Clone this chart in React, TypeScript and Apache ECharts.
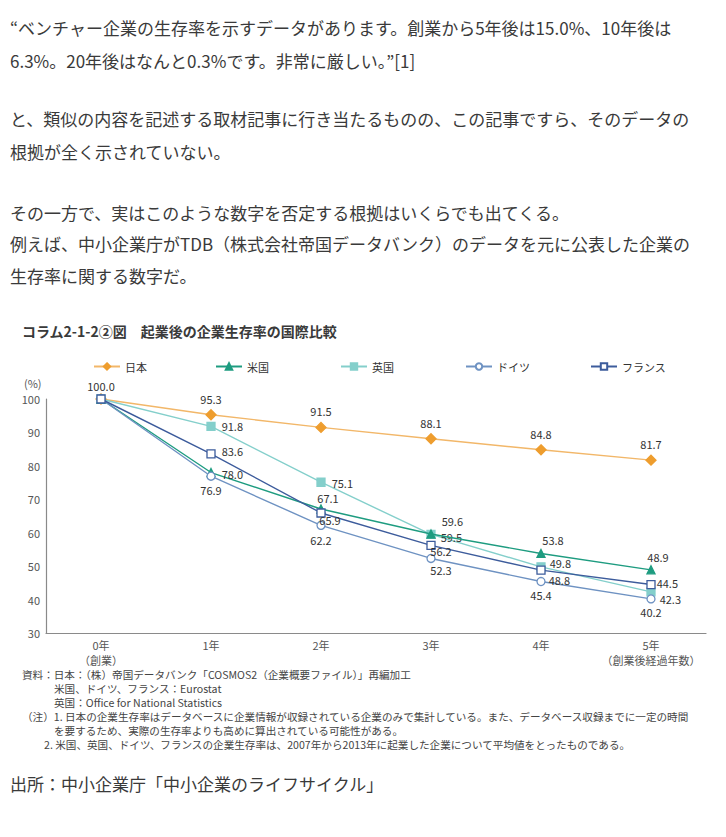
import React, { useEffect, useRef } from "react";
import * as echarts from "echarts";

const categories = ["0年\n（創業）", "1年", "2年", "3年", "4年", "5年\n（創業後経過年数）"];
const seriesNames = ["日本", "米国", "英国", "ドイツ", "フランス"];
const japan = [100.0, 95.3, 91.5, 88.1, 84.8, 81.7];
const usa = [100.0, 78.0, 67.1, 59.6, 53.8, 48.9];
const uk = [100.0, 91.8, 75.1, 59.5, 49.8, 42.3];
const germany = [100.0, 76.9, 62.2, 52.3, 45.4, 40.2];
const france = [100.0, 83.6, 65.9, 56.2, 48.8, 44.5];
const yTicks = { min: 30, max: 100, interval: 10 };

const prose = [
  "“ベンチャー企業の生存率を示すデータがあります。創業から5年後は15.0%、10年後は",
  "6.3%。20年後はなんと0.3%です。非常に厳しい。”[1]",
  "と、類似の内容を記述する取材記事に行き当たるものの、この記事ですら、そのデータの",
  "根拠が全く示されていない。",
  "その一方で、実はこのような数字を否定する根拠はいくらでも出てくる。",
  "例えば、中小企業庁がTDB（株式会社帝国データバンク）のデータを元に公表した企業の",
  "生存率に関する数字だ。",
];
const chartTitle = "コラム2-1-2②図　起業後の企業生存率の国際比較";
const notes = [
  "資料：日本：（株）帝国データバンク「COSMOS2（企業概要ファイル）」再編加工",
  "米国、ドイツ、フランス：Eurostat",
  "英国：Office for National Statistics",
  "（注）1. 日本の企業生存率はデータベースに企業情報が収録されている企業のみで集計している。また、データベース収録までに一定の時間",
  "を要するため、実際の生存率よりも高めに算出されている可能性がある。",
  "2. 米国、英国、ドイツ、フランスの企業生存率は、2007年から2013年に起業した企業について平均値をとったものである。",
];
const sourceText = "出所：中小企業庁「中小企業のライフサイクル」";

const FONT = '"Noto Sans CJK JP", "Noto Sans", sans-serif';

type LP = { show: boolean; position?: any; d?: number[]; distance?: number };
const hide: LP = { show: false };

const japanLabels: LP[] = [hide, ...[1, 2, 3, 4, 5].map(() => ({ show: true, position: "top", distance: 5 }))];
const usaLabels: LP[] = [
  hide,
  { show: true, position: "right", distance: 6, d: [0, 1] },
  { show: true, position: "top", distance: 2, d: [7, 1] },
  { show: true, position: "right", distance: 6, d: [0, -13] },
  { show: true, position: "top", distance: 3, d: [12, 0] },
  { show: true, position: "top", distance: 3, d: [7, 0] },
];
const ukLabels: LP[] = [
  hide,
  { show: true, position: "right", distance: 6 },
  { show: true, position: "right", distance: 6, d: [0, 1] },
  { show: true, position: "right", distance: 5, d: [0, 3] },
  { show: true, position: "right", distance: 4, d: [0, -4] },
  { show: true, position: "right", distance: 4, d: [0, 7] },
];
const germanyLabels: LP[] = [
  hide,
  { show: true, position: "bottom", distance: 4 },
  { show: true, position: "bottom", distance: 4 },
  { show: true, position: "bottom", distance: 1, d: [10, 0] },
  { show: true, position: "bottom", distance: 3 },
  { show: true, position: "bottom", distance: 3 },
];
const franceLabels: LP[] = [
  { show: true, position: "top", distance: 3 },
  { show: true, position: "right", distance: 6, d: [0, -3] },
  { show: true, position: "bottom", distance: 0, d: [9, -3] },
  { show: true, position: "bottom", distance: 0, d: [10, -5] },
  { show: true, position: "right", distance: 3, d: [0, 10] },
  { show: true, position: "right", distance: 1, d: [0, -2] },
];

export default function App() {
  const ref = useRef<HTMLDivElement>(null);
  useEffect(() => {
    if (!ref.current) return;
    const chart = echarts.init(ref.current, undefined, { renderer: "svg" });

    const labelStyle = { color: "#333", fontSize: 11, fontFamily: FONT, formatter: (p: any) => Number(p.value).toFixed(1) };
    const mk = (vals: number[], labels: LP[]) =>
      vals.map((v, i) => ({
        value: v,
        label: { ...labelStyle, show: labels[i].show, position: labels[i].position, distance: labels[i].distance },
      }));

    const defs = [
      { name: seriesNames[0], vals: japan, labels: japanLabels, color: "#EE9D2E", lineColor: "#F2B769", symbol: "diamond", size: 10, fill: "#EE9D2E", z: 2 },
      { name: seriesNames[1], vals: usa, labels: usaLabels, color: "#1E9C80", lineColor: "#1E9C80", symbol: "triangle", size: 8, fill: "#1E9C80", z: 3 },
      { name: seriesNames[2], vals: uk, labels: ukLabels, color: "#84CFCB", lineColor: "#84CFCB", symbol: "rect", size: 8, fill: "#84CFCB", z: 2 },
      { name: seriesNames[3], vals: germany, labels: germanyLabels, color: "#6E92C2", lineColor: "#6E92C2", symbol: "circle", size: 8, fill: "#fff", z: 4 },
      { name: seriesNames[4], vals: france, labels: franceLabels, color: "#3D5C9C", lineColor: "#3D5C9C", symbol: "rect", size: 8, fill: "#fff", z: 5 },
    ];

    const legendX = [88, 210, 335, 460, 585];

    const textEl = (text: string, x: number, y: number, size: number, extra: any = {}) => ({
      type: "text",
      x,
      y,
      style: { text, fill: extra.fill || "#3a3a3a", font: `${extra.weight || "normal"} ${size}px ${FONT}`, verticalAlign: "middle", align: "left" },
    });

    const proseY = [27, 60, 118, 151, 212, 243, 275];
    const notesPos = [
      [22, 674],
      [54, 688],
      [54, 702],
      [22, 716],
      [54, 730],
      [44, 744],
    ];

    chart.setOption({
      animation: false,
      backgroundColor: "#fff",
      textStyle: { fontFamily: FONT },
      grid: { left: 46, right: 20, top: 399, height: 234 },
      legend: seriesNames.map((n, i) => ({
        data: [n],
        left: legendX[i],
        top: 356,
        itemWidth: 26,
        itemHeight: 8,
        textStyle: { color: "#333", fontSize: 11, fontFamily: FONT },
        selectedMode: false,
      })),
      xAxis: {
        type: "category",
        data: categories,
        boundaryGap: true,
        axisLine: { lineStyle: { color: "#8a8a8a", width: 1.2 } },
        axisTick: { inside: true, length: 5, lineStyle: { color: "#8a8a8a" } },
        axisLabel: { color: "#555", fontSize: 11, fontFamily: FONT, margin: 4, lineHeight: 15, interval: 0, hideOverlap: false },
      },
      yAxis: {
        type: "value",
        min: yTicks.min,
        max: yTicks.max,
        interval: yTicks.interval,
        axisLine: { show: true, lineStyle: { color: "#8a8a8a", width: 1.2 } },
        axisTick: { show: false },
        splitLine: { show: false },
        axisLabel: { color: "#555", fontSize: 11, fontFamily: FONT, margin: 6 },
      },
      series: defs.map((d) => ({
        type: "line",
        name: d.name,
        data: mk(d.vals, d.labels),
        symbol: d.symbol,
        symbolSize: d.size,
        z: d.z,
        itemStyle: { color: d.fill, borderColor: d.color, borderWidth: 1.3 },
        lineStyle: { color: d.lineColor, width: 1.4 },
        color: d.color,
        labelLayout: (p: any) => {
          const off = d.labels[p.dataIndex]?.d || [0, 0];
          return { dx: off[0], dy: off[1], hideOverlap: false };
        },
      })),
      graphic: [
        ...prose.map((t, i) => textEl(t, 10, proseY[i], 17)),
        textEl(chartTitle, 22, 331, 14, { weight: "bold" }),
        textEl("(%)", 24, 383, 11, { fill: "#555" }),
        ...notes.map((t, i) => ({
          type: "text",
          x: notesPos[i][0],
          y: notesPos[i][1],
          style: { text: t, fill: "#444", font: `10.6px ${FONT}`, lineHeight: 12, verticalAlign: "middle" },
        })),
        textEl(sourceText, 10, 783, 17),
      ],
    });
    return () => chart.dispose();
  }, []);
  return <div ref={ref} style={{ position: "absolute", left: 0, top: 0, width: 726, height: 837 }} />;
}
